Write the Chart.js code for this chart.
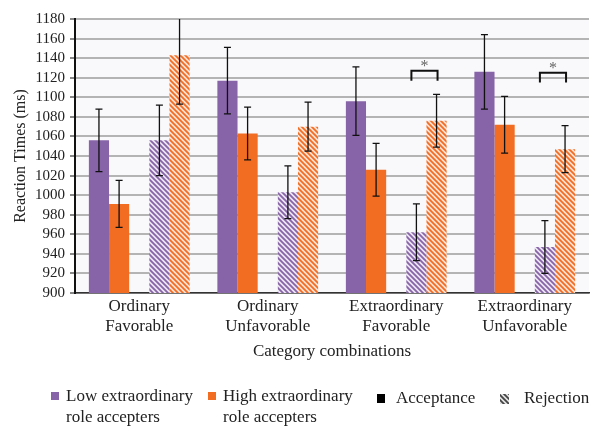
<!DOCTYPE html>
<html>
<head>
<meta charset="utf-8">
<script src="https://cdn.jsdelivr.net/npm/chart.js@4.4.1/dist/chart.umd.min.js"></script>
<style>
  html, body { margin: 0; padding: 0; background: #fff; }
  #wrap { width: 601px; height: 427px; }
</style>
</head>
<body>
<div id="wrap"><canvas id="rtChart" width="601" height="427"></canvas></div>
<script>
const categories = [['Ordinary', 'Favorable'], ['Ordinary', 'Unfavorable'], ['Extraordinary', 'Favorable'], ['Extraordinary', 'Unfavorable']];

// means (ms)
const lowAccept = [1056, 1117, 1096, 1126];
const highAccept = [991, 1063, 1026, 1072];
const lowReject = [1056, 1003, 962, 947];
const highReject = [1143, 1070, 1076, 1047];

// error bar half-widths (ms)
const lowAcceptErr = [32, 34, 35, 38];
const highAcceptErr = [24, 27, 27, 29];
const lowRejectErr = [36, 27, 29, 27];
const highRejectErr = [50, 25, 27, 24];

// significance brackets between rejection bars (null = none)
const bracketTop = [null, null, 1127, 1125];
const bracketLeg = [null, null, 1117, 1115];

const yTicks = [900, 920, 940, 960, 980, 1000, 1020, 1040, 1060, 1080, 1100, 1120, 1140, 1160, 1180];

const purple = '#8763a7';
const orange = '#f26c22';

function hatch(color, bg) {
    const n = 5;
    const c = document.createElement('canvas');
    c.width = n; c.height = n;
    const g = c.getContext('2d');
    g.fillStyle = bg;
    g.fillRect(0, 0, n, n);
    g.strokeStyle = color;
    g.lineWidth = 1.8;
    g.beginPath();
    g.moveTo(-1, -1); g.lineTo(n + 1, n + 1);
    g.moveTo(-1, n - 1); g.lineTo(1, n + 1);
    g.moveTo(n - 1, -1); g.lineTo(n + 1, 1);
    g.stroke();
    return g.createPattern(c, 'repeat');
}

const purpleHatch = hatch(purple, '#ece6f3');
const orangeHatch = hatch(orange, '#fde3d4');

const errors = [lowAcceptErr, highAcceptErr, null, lowRejectErr, highRejectErr];

const plotBg = {
    id: 'plotBg',
    beforeDraw(chart) {
        const a = chart.chartArea;
        const ctx = chart.ctx;
        ctx.save();
        ctx.fillStyle = '#f9f9fc';
        ctx.fillRect(a.left, a.top, a.right - a.left, a.bottom - a.top);
        ctx.restore();
    }
};

const errorBars = {
    id: 'errorBars',
    afterDatasetsDraw(chart) {
        const ctx = chart.ctx;
        const y = chart.scales.y;
        const a = chart.chartArea;
        ctx.save();
        ctx.strokeStyle = '#111';
        ctx.lineWidth = 1.3;
        chart.data.datasets.forEach((ds, i) => {
            const err = errors[i];
            if (!err) return;
            chart.getDatasetMeta(i).data.forEach((bar, j) => {
                const v = ds.data[j];
                const top = y.getPixelForValue(v + err[j]);
                const bot = y.getPixelForValue(v - err[j]);
                ctx.beginPath();
                ctx.moveTo(bar.x, Math.max(top, a.top));
                ctx.lineTo(bar.x, bot);
                if (top >= a.top) {
                    ctx.moveTo(bar.x - 3.5, top); ctx.lineTo(bar.x + 3.5, top);
                }
                ctx.moveTo(bar.x - 3.5, bot); ctx.lineTo(bar.x + 3.5, bot);
                ctx.stroke();
            });
        });

        // brackets with asterisk
        const m1 = chart.getDatasetMeta(3).data;
        const m2 = chart.getDatasetMeta(4).data;
        ctx.lineWidth = 2;
        bracketTop.forEach((t, j) => {
            if (t === null) return;
            const x1 = m1[j].x - 5;
            const x2 = m2[j].x + 1;
            const yt = y.getPixelForValue(t);
            const yl = y.getPixelForValue(bracketLeg[j]);
            ctx.beginPath();
            ctx.moveTo(x1, yl); ctx.lineTo(x1, yt); ctx.lineTo(x2, yt); ctx.lineTo(x2, yl);
            ctx.stroke();
            ctx.fillStyle = '#666';
            ctx.font = '16px "Liberation Serif"';
            ctx.textAlign = 'center';
            ctx.textBaseline = 'bottom';
            ctx.fillText('*', (x1 + x2) / 2, yt + 4);
        });
        ctx.restore();
    }
};

const legendBox = {
    id: 'legendBox',
    afterDraw(chart) {
        const ctx = chart.ctx;
        ctx.save();
        ctx.font = '17px "Liberation Serif"';
        ctx.textBaseline = 'middle';
        ctx.textAlign = 'left';
        ctx.fillStyle = purple; ctx.fillRect(51, 392, 8, 8);
        ctx.fillStyle = orange; ctx.fillRect(208, 392, 8, 8);
        ctx.fillStyle = '#000'; ctx.fillRect(377, 394, 8, 9);
        ctx.fillStyle = hatch('#444', '#e4e4e4'); ctx.fillRect(500, 394, 9, 10);
        ctx.fillStyle = '#222';
        ctx.fillText('Low extraordinary', 66, 397);
        ctx.fillText('role accepters', 66, 418);
        ctx.fillText('High extraordinary', 223, 397);
        ctx.fillText('role accepters', 223, 418);
        ctx.fillText('Acceptance', 396, 399);
        ctx.fillText('Rejection', 524, 399);
        ctx.restore();
    }
};

Chart.defaults.font.family = '"Liberation Serif", serif';
Chart.defaults.color = '#222';

const ctx = document.getElementById('rtChart').getContext('2d');
const rtChart = new Chart(ctx, {
    type: 'bar',
    data: {
        labels: categories,
        datasets: [
            { label: 'Low extraordinary role accepters - Acceptance', data: lowAccept, backgroundColor: purple },
            { label: 'High extraordinary role accepters - Acceptance', data: highAccept, backgroundColor: orange },
            { label: 'gap', data: [null, null, null, null], backgroundColor: 'rgba(0,0,0,0)' },
            { label: 'Low extraordinary role accepters - Rejection', data: lowReject, backgroundColor: purpleHatch },
            { label: 'High extraordinary role accepters - Rejection', data: highReject, backgroundColor: orangeHatch }
        ]
    },
    options: {
        responsive: false,
        animation: false,
        categoryPercentage: 0.784,
        barPercentage: 1,
        layout: { padding: { left: 0, right: 12, top: 19, bottom: 0 } },
        plugins: {
            legend: { display: false },
            tooltip: { enabled: false }
        },
        scales: {
            x: {
                grid: { display: false, drawTicks: false },
                border: { display: true, color: '#333', width: 1.5 },
                ticks: { font: { size: 17 }, padding: 3, maxRotation: 0 },
                title: {
                    display: true,
                    text: 'Category combinations',
                    font: { size: 17 },
                    padding: { top: 0, bottom: 65 }
                },
                afterFit(scale) { scale.height = 134; }
            },
            y: {
                min: 900,
                max: 1180,
                afterBuildTicks(scale) { scale.ticks = yTicks.map(v => ({ value: v })); },
                grid: { color: '#b4b4b4', lineWidth: 2, tickColor: '#111', tickLength: 5, tickWidth: 1 },
                border: { display: true, color: '#111', width: 2 },
                ticks: { font: { size: 15 }, padding: 5, autoSkip: false, callback: v => String(v) },
                title: {
                    display: true,
                    text: 'Reaction Times (ms)',
                    font: { size: 16 },
                    padding: { top: 11, bottom: 0 }
                },
                afterFit(scale) { scale.width = 75; }
            }
        }
    },
    plugins: [plotBg, errorBars, legendBox]
});
</script>
</body>
</html>
